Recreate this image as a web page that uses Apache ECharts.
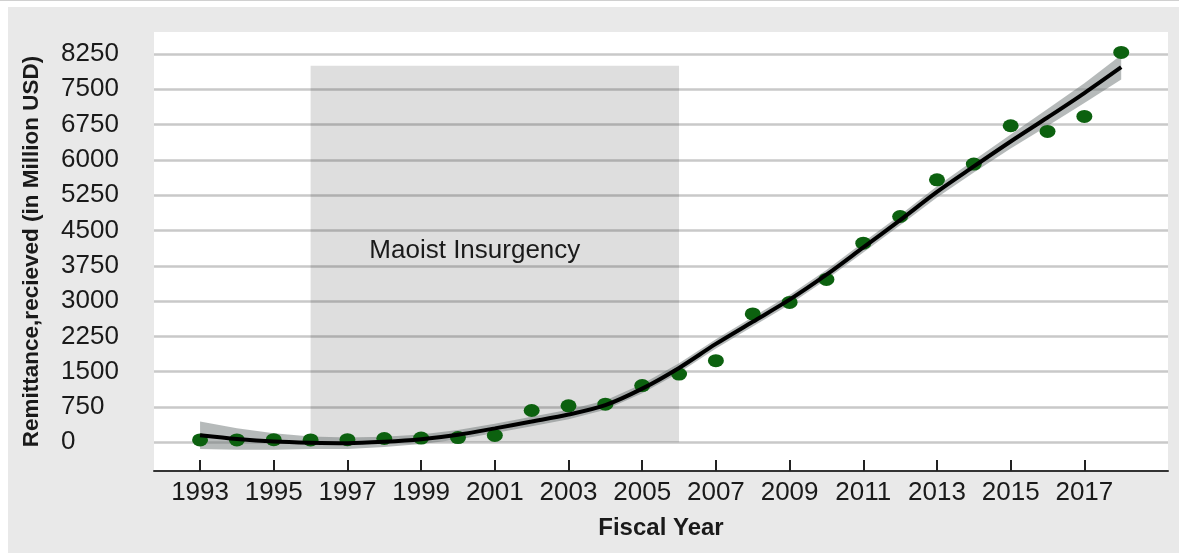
<!DOCTYPE html>
<html>
<head>
<meta charset="utf-8">
<title>Remittance received</title>
<script src="https://cdn.jsdelivr.net/npm/echarts@6/dist/echarts.min.js"></script>
<style>
  html, body { margin: 0; padding: 0; background: #fff; }
  .topline { position: absolute; left: 0; top: 0; width: 1179px; height: 1px; background: #d0d0d0; }
  .panel { position: absolute; left: 8px; top: 7px; width: 1171px; height: 546px; background: #e9e9e9; }
  #chart { width: 1171px; height: 546px; }
</style>
</head>
<body>
<div class="topline"></div>
<div class="panel"><div id="chart"></div></div>
<script>
// fiscal years
const years = [1993, 1994, 1995, 1996, 1997, 1998, 1999, 2000, 2001, 2002, 2003, 2004, 2005,
  2006, 2007, 2008, 2009, 2010, 2011, 2012, 2013, 2014, 2015, 2016, 2017, 2018];

// observed remittance (million USD)
const remittance = [50, 50, 55, 50, 55, 80, 90, 100, 145, 675, 775, 810, 1205, 1450, 1735,
  2728, 2972, 3460, 4231, 4797, 5577, 5911, 6725, 6604, 6923, 8284];

// fitted trend and its confidence band
const fitLine = [150, 70, 15, -10, -20, 10, 65, 160, 295, 440, 590, 790, 1140, 1580, 2090,
  2560, 3030, 3560, 4140, 4720, 5320, 5860, 6390, 6900, 7420, 7970];
const bandHigh = [440, 300, 190, 125, 100, 120, 165, 260, 395, 540, 690, 890, 1240, 1680, 2190,
  2660, 3130, 3660, 4250, 4830, 5440, 5990, 6540, 7080, 7630, 8230];
const bandLow = [-140, -160, -160, -140, -140, -100, -35, 60, 195, 340, 490, 690, 1040, 1480, 1990,
  2460, 2930, 3460, 4030, 4610, 5200, 5730, 6240, 6720, 7210, 7710];

// axis ticks
const xTicks = [1993, 1995, 1997, 1999, 2001, 2003, 2005, 2007, 2009, 2011, 2013, 2015, 2017];
const yTicks = [0, 750, 1500, 2250, 3000, 3750, 4500, 5250, 6000, 6750, 7500, 8250];

// insurgency period
const insurgency = { label: 'Maoist Insurgency', from: 1996, to: 2006, top: 8000 };

const font = 'Liberation Sans, Arial, Helvetica, sans-serif';
const chart = echarts.init(document.getElementById('chart'));

const option = {
  animation: false,
  backgroundColor: 'transparent',
  grid: {
    left: 146, right: 11, top: 25, bottom: 82,
    show: true, backgroundColor: '#ffffff', borderWidth: 0,
    outerBoundsMode: 'none'
  },
  xAxis: {
    type: 'value',
    min: 1991.75, max: 2019.27,
    name: 'Fiscal Year',
    nameLocation: 'middle',
    nameGap: 45,
    nameTextStyle: { fontFamily: font, fontSize: 24, fontWeight: 'bold', color: '#1a1a1a' },
    axisLine: { show: true, onZero: false, lineStyle: { color: '#333', width: 2 } },
    axisTick: { show: true, inside: true, length: 11, customValues: xTicks,
      lineStyle: { color: '#222', width: 2 } },
    axisLabel: { customValues: xTicks, fontFamily: font, fontSize: 26, color: '#1a1a1a', margin: 9,
      formatter: v => String(v) },
    splitLine: { show: false }
  },
  yAxis: {
    type: 'value',
    min: -610, max: 8717,
    name: 'Remittance,recieved (in Million USD)',
    nameLocation: 'middle',
    nameRotate: 90,
    nameGap: 111,
    nameTextStyle: { fontFamily: font, fontSize: 22.5, fontWeight: 'bold', color: '#1a1a1a' },
    axisLine: { show: false },
    axisTick: { show: false, customValues: yTicks },
    axisLabel: { customValues: yTicks, fontFamily: font, fontSize: 26, color: '#1a1a1a',
      align: 'left', margin: 93, formatter: v => String(v) },
    splitLine: { show: true, lineStyle: { color: '#c9c9c9', width: 2.5 } }
  },
  series: [
    {
      // shaded period
      type: 'line',
      data: [],
      z: 1,
      markArea: {
        silent: true,
        itemStyle: { color: 'rgba(0,0,0,0.13)' },
        label: {
          show: true, position: 'inside', offset: [-20, -3],
          fontFamily: font, fontSize: 26, color: '#1a1a1a'
        },
        data: [[
          { name: insurgency.label, xAxis: insurgency.from, yAxis: 0 },
          { xAxis: insurgency.to, yAxis: insurgency.top }
        ]]
      }
    },
    {
      // confidence band
      type: 'custom',
      z: 2,
      silent: true,
      data: years.map((y, i) => [y, bandLow[i], bandHigh[i]]),
      encode: { x: 0, y: [1, 2] },
      renderItem: (params, api) => {
        if (params.dataIndex !== 0) return null;
        const upper = years.map((y, i) => api.coord([y, bandHigh[i]]));
        const lower = years.map((y, i) => api.coord([y, bandLow[i]])).reverse();
        return {
          type: 'polygon',
          shape: { points: upper.concat(lower) },
          style: { fill: 'rgba(110,118,118,0.5)' }
        };
      }
    },
    {
      name: 'Remittance',
      type: 'scatter',
      z: 3,
      symbol: 'circle',
      symbolSize: [16, 13],
      itemStyle: { color: '#0c610f', opacity: 1 },
      data: years.map((y, i) => [y, remittance[i]])
    },
    {
      name: 'Trend',
      type: 'line',
      z: 4,
      smooth: 0.3,
      showSymbol: false,
      lineStyle: { color: '#000', width: 4 },
      data: years.map((y, i) => [y, fitLine[i]])
    }
  ]
};

chart.setOption(option);
</script>
</body>
</html>
